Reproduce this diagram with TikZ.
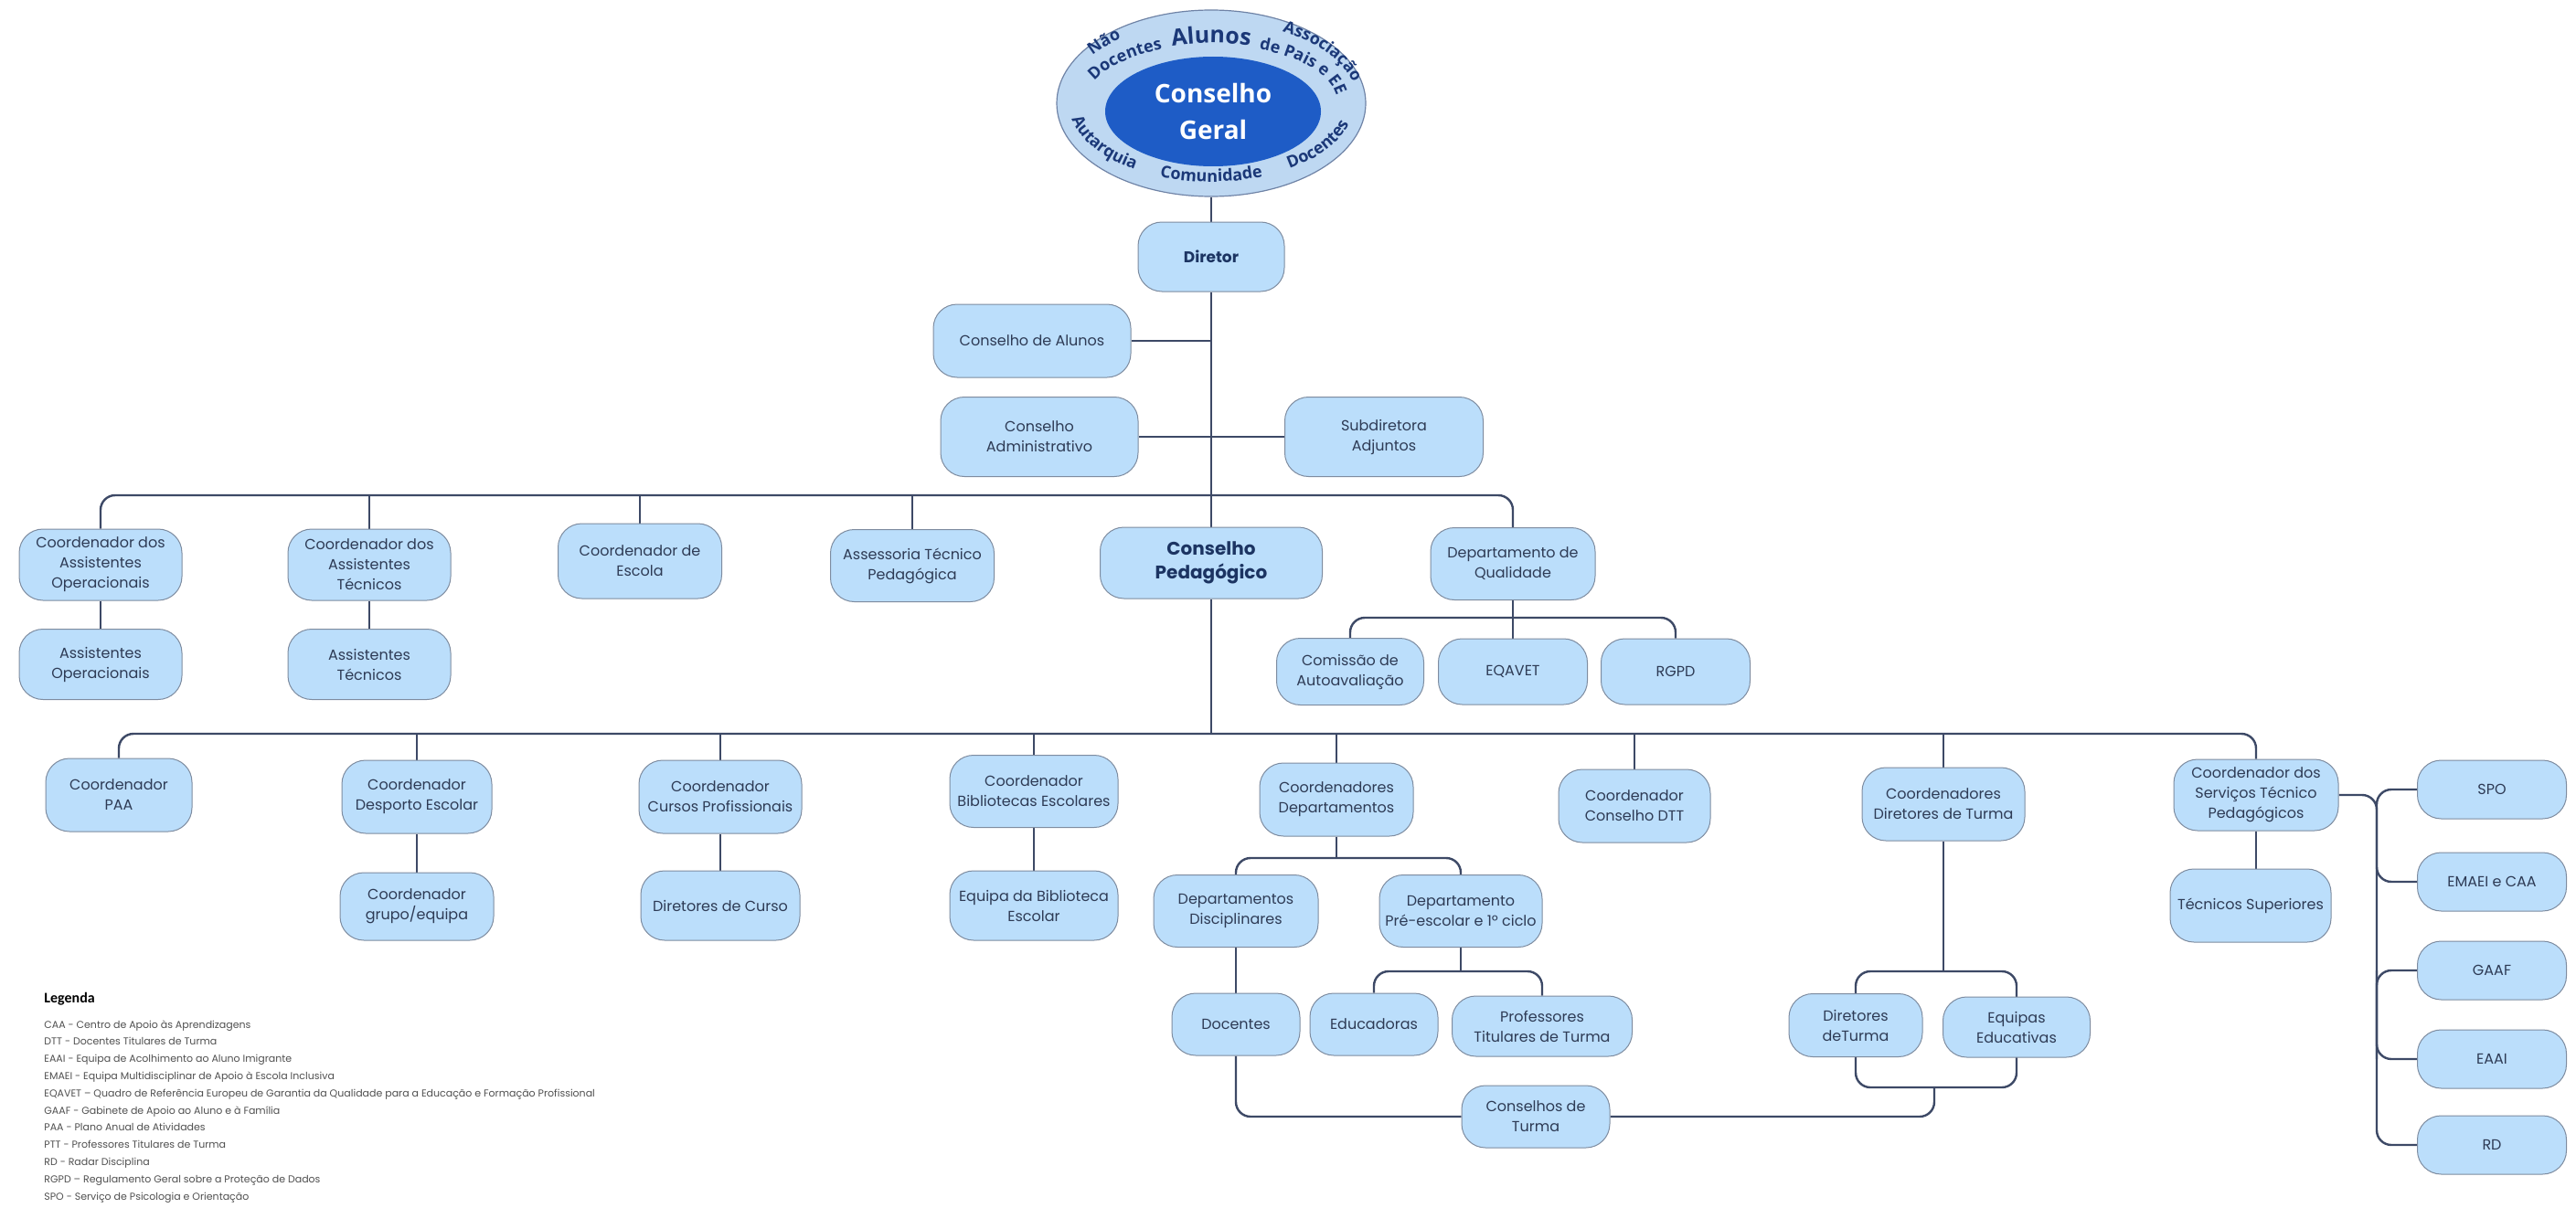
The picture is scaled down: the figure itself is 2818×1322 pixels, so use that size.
\documentclass[tikz,border=0pt]{standalone}
\usepackage{fontspec}
\setmainfont{Poppins}
\newfontfamily\ringfont{Open Sans}
\newfontfamily\legfont{Carlito}
\usetikzlibrary{shapes.geometric,decorations.text,calc}
\definecolor{boxfill}{RGB}{187,222,251}
\definecolor{boxdraw}{RGB}{126,140,160}
\definecolor{boxtext}{RGB}{46,59,85}
\definecolor{boldtext}{RGB}{28,52,98}
\definecolor{linec}{RGB}{61,73,102}
\definecolor{ringfill}{RGB}{190,216,242}
\definecolor{ringdraw}{RGB}{111,131,166}
\definecolor{innerblue}{RGB}{30,92,198}
\definecolor{ringtext}{RGB}{27,56,120}
\definecolor{legtext}{RGB}{80,80,80}
\pgfdeclarelayer{bg}
\pgfsetlayers{bg,main}
\tikzset{
  obox/.style={draw=boxdraw, fill=boxfill, rounded corners=13pt, align=center,
    font=\fontsize{8}{11}\selectfont, text=boxtext, line width=0.5pt, inner sep=1pt},
  wh/.style 2 args={minimum width=#1*0.5pt, minimum height=#2*0.5pt},
  boldbox/.style={font=\fontsize{8.5}{11}\selectfont\bfseries, text=boldtext},
  conn/.style={draw=linec, line width=1.2pt},
  rc/.style={rounded corners=8pt},
  sidebox/.style={obox, wh={163}{64}},
  ringtxt/.style={decorate, decoration={text along path, text align=center, text color=ringtext, text={|\ringfont\bfseries\fontsize{9}{10}\selectfont|#1}}},
  bigring/.style={decorate, decoration={text along path, text align=center, text color=ringtext, text={|\ringfont\bfseries\fontsize{12.5}{13}\selectfont|#1}}}
}
\begin{document}
\begin{tikzpicture}[x=0.5pt,y=0.5pt]
\useasboundingbox (0,0) rectangle (2818,-1322);
\begin{pgfonlayer}{bg}
\fill[white] (0,0) rectangle (2818,-1322);
\end{pgfonlayer}

% bus coordinates
\coordinate (b1) at (0,-542);
\coordinate (bq) at (0,-676);
\coordinate (b2) at (0,-803);
\coordinate (b3) at (0,-939);
\coordinate (b4) at (0,-1063);
\coordinate (b5) at (0,-1063);
\coordinate (b6) at (2116,-1190);

% Conselho Geral
\node[ellipse, draw=ringdraw, fill=ringfill, line width=0.6pt, minimum width=338*0.5pt, minimum height=204*0.5pt, inner sep=0pt] (cg) at (1325,-113) {};
\node[ellipse, fill=innerblue, minimum width=236*0.5pt, minimum height=120*0.5pt, inner sep=0pt, align=center, text=white, font=\ringfont\bfseries\fontsize{14}{20}\selectfont] (cgi) at (1327,-122) {Conselho\\Geral};
\path[bigring=Alunos] (cg.center) ++(118:136 and 66) arc[start angle=118, end angle=62, x radius=136, y radius=66];
\path[ringtxt=Docentes] (cg.center) ++(170:138 and 64) arc[start angle=170, end angle=106, x radius=138, y radius=64];
\path[ringtxt=Não] (cg.center) ++(160:160 and 90) arc[start angle=160, end angle=116, x radius=160, y radius=90];
\path[ringtxt=Associação] (cg.center) ++(72:160 and 90) arc[start angle=72, end angle=-4, x radius=160, y radius=90];
\path[ringtxt=de Pais e EE] (cg.center) ++(74:138 and 64) arc[start angle=74, end angle=-6, x radius=138, y radius=64];
\path[ringtxt=Autarquia] (cg.center) ++(178:156 and 86) arc[start angle=178, end angle=246, x radius=156, y radius=86];
\path[ringtxt=Comunidade] (cg.center) ++(235:156 and 86) arc[start angle=235, end angle=305, x radius=156, y radius=86];
\path[ringtxt=Docentes] (cg.center) ++(294:156 and 86) arc[start angle=294, end angle=360, x radius=156, y radius=86];

% top levels
\node[obox, boldbox, wh={160}{76}] (dir) at (1325,-281) {Diretor};
\node[obox, wh={216}{80}] (calunos) at (1129,-373) {Conselho de Alunos};
\node[obox, wh={216}{87}] (cadm) at (1137,-478) {Conselho\\Administrativo};
\node[obox, wh={217}{87}] (subd) at (1514,-478) {Subdiretora\\Adjuntos};

% row 2
\node[obox, wh={178}{78}] (cao) at (110,-618) {Coordenador dos\\Assistentes\\Operacionais};
\node[obox, wh={178}{77}] (ao) at (110,-727) {Assistentes\\Operacionais};
\node[obox, wh={178}{78}] (cat) at (404,-618) {Coordenador dos\\Assistentes\\Técnicos};
\node[obox, wh={178}{77}] (at) at (404,-727) {Assistentes\\Técnicos};
\node[obox, wh={179}{82}] (cesc) at (700,-614) {Coordenador de\\Escola};
\node[obox, wh={179}{79}] (atp) at (998,-619) {Assessoria Técnico\\Pedagógica};
\node[obox, wh={243}{78}, font=\fontsize{10}{13}\selectfont\bfseries, text=boldtext] (cp) at (1325,-616) {Conselho\\Pedagógico};
\node[obox, wh={180}{79}] (dq) at (1655,-617) {Departamento de\\Qualidade};
\node[obox, wh={161}{73}] (caa) at (1477,-735) {Comissão de\\Autoavaliação};
\node[obox, wh={163}{72}] (eqavet) at (1655,-735) {EQAVET};
\node[obox, wh={163}{72}] (rgpd) at (1833,-735) {RGPD};

% row 3
\node[obox, wh={160}{80}] (cpaa) at (130,-870) {Coordenador\\PAA};
\node[obox, wh={164}{80}] (cdesp) at (456,-872) {Coordenador\\Desporto Escolar};
\node[obox, wh={168}{74}] (cgrupo) at (456,-992) {Coordenador\\grupo/equipa};
\node[obox, wh={178}{80}] (ccp) at (788,-872) {Coordenador\\Cursos Profissionais};
\node[obox, wh={174}{76}] (dcurso) at (788,-991) {Diretores de Curso};
\node[obox, wh={184}{79}] (cbib) at (1131,-866) {Coordenador\\Bibliotecas Escolares};
\node[obox, wh={184}{76}] (ebib) at (1131,-991) {Equipa da Biblioteca\\Escolar};
\node[obox, wh={168}{80}] (cdep) at (1462,-875) {Coordenadores\\Departamentos};
\node[obox, wh={166}{80}] (cdtt) at (1788,-882) {Coordenador\\Conselho DTT};
\node[obox, wh={178}{80}] (cdt) at (2126,-880) {Coordenadores\\Diretores de Turma};
\node[obox, wh={180}{78}] (cstp) at (2468,-870) {Coordenador dos\\Serviços Técnico\\Pedagógicos};
\node[obox, wh={176}{80}] (ts) at (2462,-991) {Técnicos Superiores};
\node[sidebox] (spo) at (2726,-864) {SPO};
\node[sidebox] (emaei) at (2726,-965) {EMAEI e CAA};
\node[sidebox] (gaaf) at (2726,-1062) {GAAF};
\node[sidebox] (eaai) at (2726,-1159) {EAAI};
\node[sidebox] (rd) at (2726,-1253) {RD};

% row 4
\node[obox, wh={180}{79}] (dd) at (1352,-997) {Departamentos\\Disciplinares};
\node[obox, wh={178}{79}] (dpre) at (1598,-997) {Departamento\\Pré-escolar e 1º ciclo};
\node[obox, wh={140}{68}] (doc) at (1352,-1121) {Docentes};
\node[obox, wh={140}{68}] (educ) at (1503,-1121) {Educadoras};
\node[obox, wh={197}{66}] (ptt) at (1687,-1123) {Professores\\Titulares de Turma};
\node[obox, wh={162}{68}] (ct) at (1680,-1222) {Conselhos de\\Turma};
\node[obox, wh={146}{69}] (dtur) at (2030,-1122) {Diretores\\deTurma};
\node[obox, wh={161}{66}] (eed) at (2206,-1124) {Equipas\\Educativas};

% legend
\node[anchor=west, inner sep=0pt, font=\legfont\bfseries\fontsize{8}{10}\selectfont] (leg) at (48,-1093) {Legenda};
\node[anchor=north west, align=left, inner sep=0pt, text=legtext, font=\fontsize{5.5}{9.4}\selectfont] (legl) at (48,-1116) {CAA - Centro de Apoio às Aprendizagens\\
DTT - Docentes Titulares de Turma\\
EAAI - Equipa de Acolhimento ao Aluno Imigrante\\
EMAEI - Equipa Multidisciplinar de Apoio à Escola Inclusiva\\
EQAVET – Quadro de Referência Europeu de Garantia da Qualidade para a Educação e Formação Profissional\\
GAAF - Gabinete de Apoio ao Aluno e à Família\\
PAA - Plano Anual de Atividades\\
PTT - Professores Titulares de Turma\\
RD - Radar Disciplina\\
RGPD – Regulamento Geral sobre a Proteção de Dados\\
SPO - Serviço de Psicologia e Orientação};

% connectors
\begin{pgfonlayer}{bg}
\draw[conn] (cg.south) -- (dir.north);
\draw[conn] (dir.south) -- (cp.north);
\draw[conn] (calunos.east) -- (calunos.east -| dir.south);
\draw[conn] (cadm.east) -- (subd.west);
\draw[conn, rc] (cao.north) |- (b1 -| dq.north) -- (dq.north);
\draw[conn] (cat.north) -- (cat.north |- b1);
\draw[conn] (cesc.north) -- (cesc.north |- b1);
\draw[conn] (atp.north) -- (atp.north |- b1);
\draw[conn] (cao.south) -- (ao.north);
\draw[conn] (cat.south) -- (at.north);
\draw[conn, rc] (caa.north) |- (bq -| rgpd.north) -- (rgpd.north);
\draw[conn] (dq.south) -- (eqavet.north);
\draw[conn] (cp.south) -- (cp.south |- b2);
\draw[conn, rc] (cpaa.north) |- (b2 -| cstp.north) -- (cstp.north);
\draw[conn] (cdesp.north) -- (cdesp.north |- b2);
\draw[conn] (ccp.north) -- (ccp.north |- b2);
\draw[conn] (cbib.north) -- (cbib.north |- b2);
\draw[conn] (cdep.north) -- (cdep.north |- b2);
\draw[conn] (cdtt.north) -- (cdtt.north |- b2);
\draw[conn] (cdt.north) -- (cdt.north |- b2);
\draw[conn] (cdesp.south) -- (cgrupo.north);
\draw[conn] (ccp.south) -- (dcurso.north);
\draw[conn] (cbib.south) -- (ebib.north);
\draw[conn] (cstp.south) -- (cstp.south |- ts.north);
\draw[conn, rc] (spo.west) -- ++(-22pt,0) |- (rd.west);
\draw[conn, rc] (cstp.east) -| ([xshift=-22pt]emaei.west) -- (emaei.west);
\draw[conn, rc] ([xshift=-22pt]eaai.west) |- (gaaf.west);
\draw[conn, rc] ([xshift=-22pt]gaaf.west) |- (eaai.west);
\draw[conn] (cdep.south) -- (cdep.south |- b3);
\draw[conn, rc] (dd.north) |- (b3 -| dpre.north) -- (dpre.north);
\draw[conn] (dd.south) -- (doc.north);
\draw[conn] (dpre.south) -- (dpre.south |- b4);
\draw[conn, rc] (educ.north) |- (b4 -| ptt.north) -- (ptt.north);
\draw[conn, rc] (doc.south) |- (ct.west);
\draw[conn] (cdt.south) -- (cdt.south |- b5);
\draw[conn, rc] (dtur.center |- b5) rectangle (eed.center |- b6);
\draw[conn, rc] (ct.east) -| (b6);
\end{pgfonlayer}
\end{tikzpicture}
\end{document}
